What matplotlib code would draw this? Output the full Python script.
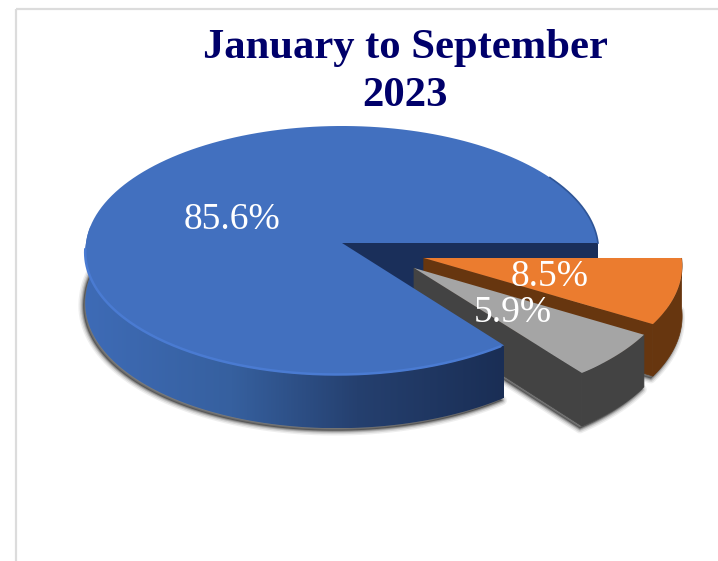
import numpy as np
import matplotlib
matplotlib.use("Agg")
import matplotlib.pyplot as plt
from matplotlib.colors import LinearSegmentedColormap
from matplotlib.patches import Polygon, Rectangle

# Shares of the period, in percent, in clockwise drawing order
shares = [85.6, 8.5, 5.9]
title_lines = ["January to September", "2023"]

top_colors = ["#4270BF", "#EB7C2F", "#A5A5A5"]
side_colors = ["#1A2F5A", "#67360F", "#434343"]
label_xy = [(232, 220), (550, 277), (513, 313)]
# Pulled-out slices, as an offset in the plane of the disc
offsets = [(0.0, 0.0), (0.3195, -0.12), (0.2817, -0.199)]

CX, CY = 342, 243
RX, RY = 256, 124.05
PERSP = 0.0602
SKEW = 5.0
DEPTH = 50


def project(u, v):
    """Map disc coordinates to the canvas with a mild perspective and lean."""
    v = np.asarray(v, dtype=float)
    w = 1 + PERSP * v
    return (CX + RX * np.asarray(u) / w + SKEW * np.minimum(v, 0),
            CY - RY * v / w,
            DEPTH / w)


def rim(theta1, theta2, off=(0.0, 0.0), n=160):
    t = np.radians(np.linspace(theta1, theta2, n))
    return project(off[0] + np.cos(t), off[1] + np.sin(t))


def top_face(theta1, theta2, off):
    x, y, _ = rim(theta1, theta2, off)
    ax0, ay0, _ = project(off[0], off[1])
    return np.column_stack([np.r_[ax0, x], np.r_[ay0, y]])


def bottom_face(theta1, theta2, off):
    x, y, d = rim(theta1, theta2, off)
    ax0, ay0, d0 = project(off[0], off[1])
    return np.column_stack([np.r_[ax0, x], np.r_[ay0 + d0, y + d]])


def band(x, y, d):
    return np.column_stack([np.r_[x, x[::-1]], np.r_[y, (y + d)[::-1]]])


def cut_wall(angle, off):
    ax0, ay0, d0 = project(off[0], off[1])
    t = np.radians(angle)
    ex, ey, de = project(off[0] + np.cos(t), off[1] + np.sin(t))
    return [(ax0, ay0), (ex, ey), (ex, ey + de), (ax0, ay0 + d0)]


fig = plt.figure(figsize=(7.18, 5.61), dpi=100, facecolor="white")
ax = fig.add_axes([0, 0, 1, 1])
ax.axis("off")

# Chart frame, running off the right and bottom of the canvas
ax.add_patch(Rectangle((16, 8.5), 900, 800, fill=False, ec="#DCDCDC", lw=1.6, zorder=1))

# Slice angles run clockwise; the second slice starts at three o'clock
total = sum(shares)
start = 360 * shares[0] / total
edges = [start]
for s in shares:
    edges.append(edges[-1] - 360 * s / total)

# Soft drop shadow under every slice
for (a1, a2, off) in zip(edges[:-1], edges[1:], offsets):
    pts = bottom_face(a1, a2, off) + np.array([-2.0, 2.5])
    for lw, alpha in [(7, 0.08), (5, 0.12), (3, 0.2), (1.5, 0.3)]:
        ax.add_patch(Polygon(pts, closed=True, fc="#303030", ec="#303030",
                             lw=lw, alpha=alpha, joinstyle="round", zorder=2))

# Inner wall of the large slice, behind the pulled-out pieces
ax.add_patch(Polygon(cut_wall(edges[1], offsets[0]), closed=True, fc=side_colors[0],
                     ec="none", zorder=3))

# Pulled-out slices, back to front
for i, z in [(1, 4), (2, 5)]:
    a1, a2, off = edges[i], edges[i + 1], offsets[i]
    x, y, d = rim(a1, a2, off)
    ax.add_patch(Polygon(band(x, y, d), closed=True, fc=side_colors[i],
                         ec=side_colors[i], lw=0.5, zorder=z))
    ax.add_patch(Polygon(cut_wall(a2, off), closed=True, fc=side_colors[i],
                         ec=side_colors[i], lw=0.5, zorder=z))
    ax.add_patch(Polygon(top_face(a1, a2, off), closed=True, fc=top_colors[i],
                         ec="none", zorder=z + 0.5))

# Front rim of the large slice with a horizontal shading ramp
x, y, d = rim(172, edges[0])
rim_patch = Polygon(band(x, y, d), closed=True, transform=ax.transData, fc="none", ec="none")
ax.add_patch(rim_patch)
rim_patch.set_zorder(6)
ramp = LinearSegmentedColormap.from_list(
    "rim", [(0.0, "#3E6BB6"), (0.35, "#36609F"), (0.65, "#25406F"), (1.0, "#1A2E55")])
grad = ax.imshow(np.linspace(0, 1, 256)[None, :], cmap=ramp, aspect="auto",
                 extent=(x.min(), x.max(), (y + d).max(), y.min()), zorder=6)
grad.set_clip_path(rim_patch)

# Top of the large slice, with a bright bevel along the front and a dark one at the back
ax.add_patch(Polygon(top_face(edges[0], edges[1], offsets[0]), closed=True,
                     fc=top_colors[0], ec="none", zorder=7))
bx, by, _ = rim(183, edges[0] - 1)
ax.plot(bx, by - 0.5, color="#4A7BD2", lw=1.8, solid_capstyle="round", zorder=8)
dx_, dy_, _ = rim(0, 33)
ax.plot(dx_, dy_, color="#2F5597", lw=1.2, zorder=8)

# Value labels
for s, (lx, ly) in zip(shares, label_xy):
    ax.text(lx, ly, f"{s:.1f}%", color="white", ha="center", va="center",
            family="Liberation Serif", fontsize=27, zorder=10)

# Two-line title
for line, yy in zip(title_lines, [48, 96]):
    ax.text(405, yy, line, color="#00006A", ha="center", va="center",
            family="Liberation Serif", fontweight="bold", fontsize=30.7, zorder=10)

ax.set_xlim(0, 718)
ax.set_ylim(561, 0)
fig.savefig("out.png", dpi=100, facecolor="white")
